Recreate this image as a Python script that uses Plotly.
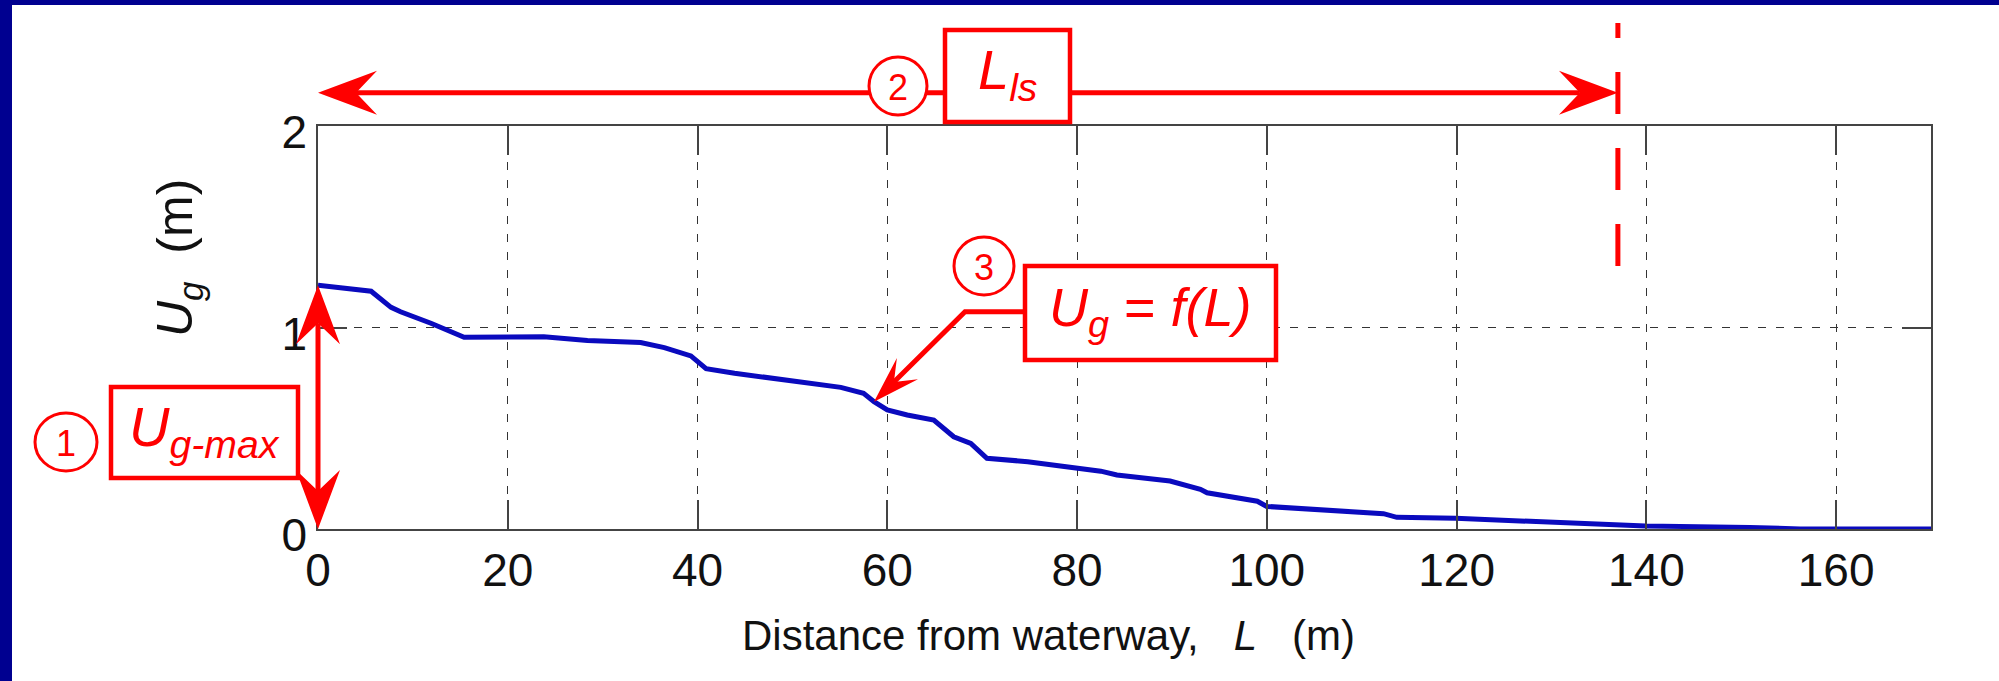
import numpy as np
import plotly.graph_objects as go

# Groundwater uplift U_g along the distance L from the waterway
dist_m = [0, 5.6, 7.7, 8.7, 11.9, 15.4, 23.8, 28.4, 34.0, 36.5, 39.3,
          40.2, 40.9, 43.9, 50.9, 55.1, 57.5, 58.6, 60.0, 62.1, 64.9,
          67.0, 68.8, 70.5, 74.8, 79.7, 82.5, 84.2, 89.8, 93.0, 93.7,
          99.0, 100.0, 112.3, 113.7, 119.9, 129.9, 139.9, 150.9, 156.2, 170]
uplift_m = [1.21, 1.18, 1.10, 1.078, 1.021, 0.951, 0.954, 0.935, 0.925, 0.900, 0.859,
            0.822, 0.796, 0.773, 0.731, 0.703, 0.673, 0.632, 0.591, 0.566, 0.541,
            0.458, 0.425, 0.351, 0.334, 0.301, 0.287, 0.268, 0.238, 0.197, 0.180,
            0.138, 0.112, 0.076, 0.058, 0.053, 0.033, 0.015, 0.008, 0.0, 0.0]

x_ticks = [0, 20, 40, 60, 80, 100, 120, 140, 160]
y_ticks = [0, 1, 2]
X_RANGE = [0, 170]
Y_RANGE = [0, 2]

# annotated quantities
ug_max = uplift_m[0]          # (1) maximum uplift at the waterway
l_ls = 137                    # (2) extent of the influence zone
pointer_L = 58.6              # (3) point of the curve the callout points at

W, H = 1999, 681
M_L, M_R, M_T, M_B = 318, 68, 126, 152
PLOT_W = W - M_L - M_R
PLOT_H = H - M_T - M_B
PLOT_B = H - M_B

RED = "#FF0000"
NAVY = "#000090"
CURVE = "#0A0ABE"
AXIS = "#444444"
FONT = "Liberation Sans, Arial, sans-serif"


def xp(v):
    return (v - X_RANGE[0]) / (X_RANGE[1] - X_RANGE[0])


def yp(v):
    return (v - Y_RANGE[0]) / (Y_RANGE[1] - Y_RANGE[0])


def page_x(px):
    return (px - M_L) / PLOT_W


def page_y(py):
    return (PLOT_B - py) / PLOT_H


def arrow_head(xa, ya, angle, length=59, half=22, notch=38):
    a = np.radians(angle)
    pts = [(0, 0), (-length, half), (-notch, 0), (-length, -half)]
    rot = [(x * np.cos(a) - y * np.sin(a), x * np.sin(a) + y * np.cos(a)) for x, y in pts]
    path = "M" + " L".join(f"{x:.2f},{y:.2f}" for x, y in rot) + " Z"
    return dict(type="path", xref="paper", yref="paper", xsizemode="pixel",
                ysizemode="pixel", xanchor=xa, yanchor=ya, path=path,
                fillcolor=RED, line=dict(width=0), layer="above")


def rect(x0, y0, x1, y1, width=4.5):
    return dict(type="rect", xref="paper", yref="paper",
                x0=page_x(x0), x1=page_x(x1), y0=page_y(y1), y1=page_y(y0),
                line=dict(color=RED, width=width), fillcolor="white", layer="above")


def circle(cx, cy, rx, ry):
    return dict(type="circle", xref="paper", yref="paper",
                x0=page_x(cx - rx), x1=page_x(cx + rx),
                y0=page_y(cy + ry), y1=page_y(cy - ry),
                line=dict(color=RED, width=3), fillcolor="white", layer="above")


def label(text, px, py, size, color=RED, angle=0):
    return dict(text=text, xref="paper", yref="paper", x=page_x(px), y=page_y(py),
                xanchor="center", yanchor="middle", showarrow=False, textangle=angle,
                font=dict(family=FONT, size=size, color=color))


fig = go.Figure()
fig.add_trace(go.Scatter(x=dist_m, y=uplift_m, mode="lines",
                         line=dict(color=CURVE, width=5), hoverinfo="skip"))

shapes = []
# page frame
shapes.append(dict(type="rect", xref="paper", yref="paper", x0=page_x(0), x1=page_x(12),
                   y0=page_y(H), y1=page_y(0), fillcolor=NAVY, line=dict(width=0)))
shapes.append(dict(type="rect", xref="paper", yref="paper", x0=page_x(0), x1=page_x(W),
                   y0=page_y(5), y1=page_y(0), fillcolor=NAVY, line=dict(width=0)))

# (1) vertical double arrow for U_g-max
notch_y = 38 / PLOT_H
shapes.append(dict(type="line", xref="paper", yref="paper", x0=xp(0), x1=xp(0),
                   y0=yp(0) + notch_y, y1=yp(ug_max) - notch_y,
                   line=dict(color=RED, width=5), layer="above"))
shapes.append(arrow_head(xp(0), yp(ug_max), 90))
shapes.append(arrow_head(xp(0), yp(0), -90))
shapes.append(rect(111, 387, 298, 478))
shapes.append(circle(66, 442, 31, 29))

# (2) horizontal double arrow for L_ls and dashed limit line
arrow_y = page_y(92.7)
notch_x = 38 / PLOT_W
shapes.append(dict(type="line", xref="paper", yref="paper", x0=xp(0) + notch_x,
                   x1=xp(l_ls) - notch_x, y0=arrow_y, y1=arrow_y,
                   line=dict(color=RED, width=5), layer="above"))
shapes.append(arrow_head(xp(0), arrow_y, 180))
shapes.append(arrow_head(xp(l_ls), arrow_y, 0))
shapes.append(dict(type="line", xref="paper", yref="paper", x0=xp(l_ls), x1=xp(l_ls),
                   y0=page_y(266), y1=page_y(23),
                   line=dict(color=RED, width=5, dash="42px,34px"), layer="above"))
shapes.append(circle(898, 86, 29, 29))
shapes.append(rect(945, 30, 1070, 122))

# (3) callout pointing at the curve
tip_x = xp(pointer_L)
tip_y = yp(float(np.interp(pointer_L, dist_m, uplift_m)))
elbow_px = (965, 311.7)
elbow = (page_x(elbow_px[0]), page_y(elbow_px[1]))
dx_px = (tip_x - elbow[0]) * PLOT_W
dy_px = (tip_y - elbow[1]) * PLOT_H
ang = np.degrees(np.arctan2(dy_px, dx_px))
seg = np.hypot(dx_px, dy_px)
end_x = elbow[0] + dx_px * (seg - 28) / seg / PLOT_W
end_y = elbow[1] + dy_px * (seg - 28) / seg / PLOT_H
shapes.append(dict(type="path", xref="paper", yref="paper",
                   path=f"M{page_x(1025):.5f},{elbow[1]:.5f} L{elbow[0]:.5f},{elbow[1]:.5f} "
                        f"L{end_x:.5f},{end_y:.5f}",
                   line=dict(color=RED, width=5), layer="above"))
shapes.append(arrow_head(tip_x, tip_y, ang, length=47, half=15, notch=28))
shapes.append(rect(1025, 266, 1276, 360))
shapes.append(circle(984, 266, 30, 29))

annotations = [
    label("<i>U</i><sub><i>g-max</i></sub>", 204, 430, 56),
    label("1", 66, 443, 36),
    label("<i>L</i><sub><i>ls</i></sub>", 1007, 74, 56),
    label("2", 898, 87, 36),
    label("<i>U</i><sub><i>g</i></sub> = <i>f(L)</i>", 1150, 311, 54),
    label("3", 984, 267, 36),
    label("Distance from waterway,\u00a0\u00a0 <i>L</i> \u00a0\u00a0(m)", 1048, 635, 42,
          color="#111111"),
    label("<i>U</i><sub><i>g</i></sub>\u00a0\u00a0(m)", 178, 258, 50, color="#111111",
          angle=-90),
]

axis_common = dict(
    showline=True, linecolor=AXIS, linewidth=1.5, mirror="ticks",
    ticks="inside", ticklen=29, tickwidth=1.5, tickcolor=AXIS,
    showgrid=True, gridcolor="#333333", gridwidth=1.2, griddash="8px,10px",
    zeroline=False, tickfont=dict(family=FONT, size=46, color="#111111"),
)

fig.update_layout(
    width=W, height=H,
    margin=dict(l=M_L, r=M_R, t=M_T, b=M_B, pad=0),
    paper_bgcolor="white", plot_bgcolor="white",
    showlegend=False,
    xaxis=dict(range=X_RANGE, tickvals=x_ticks, **axis_common),
    yaxis=dict(range=Y_RANGE, tickvals=y_ticks, ticklabelshift=6, **axis_common),
    shapes=shapes,
    annotations=annotations,
)

fig.write_html("out.html", config={"displayModeBar": False})
